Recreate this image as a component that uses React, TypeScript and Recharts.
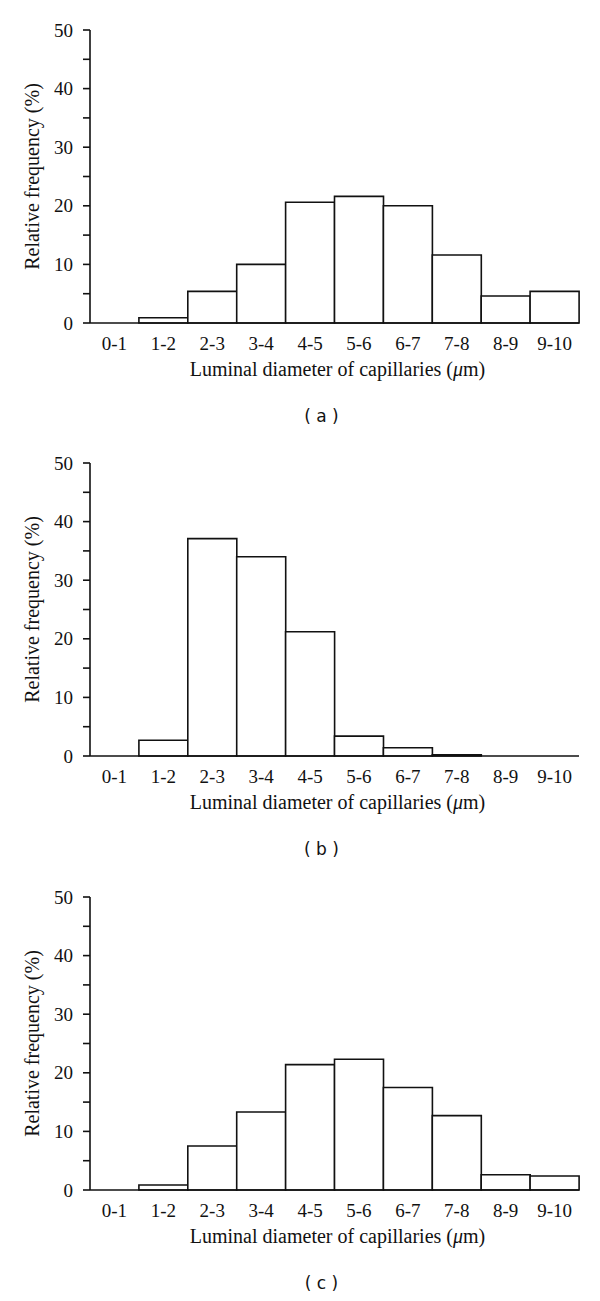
import { BarChart, Bar, XAxis, YAxis, Label } from 'recharts';

const bins = ['0-1', '1-2', '2-3', '3-4', '4-5', '5-6', '6-7', '7-8', '8-9', '9-10'];
const freqA = [0, 0.9, 5.4, 10.0, 20.6, 21.6, 20.0, 11.6, 4.6, 5.4];
const freqB = [0, 2.7, 37.1, 34.0, 21.2, 3.4, 1.4, 0.2, 0, 0];
const freqC = [0, 0.85, 7.5, 13.3, 21.4, 22.3, 17.5, 12.7, 2.6, 2.4];
const yTicks = [0, 5, 10, 15, 20, 25, 30, 35, 40, 45, 50];
const panelTags = ['( a )', '( b )', '( c )'];

const SERIF = '"Liberation Serif", "Times New Roman", serif';
const SANS = '"DejaVu Sans", Verdana, sans-serif';
const INK = '#111';

const YTick = ({ x, y, payload }: any) => {
  if (payload.value % 10 !== 0) return null;
  return (
    <text x={x} y={y} textAnchor="end" dominantBaseline="central" fontFamily={SERIF} fontSize={19} fill={INK}>
      {payload.value}
    </text>
  );
};

const XTick = ({ x, y, payload }: any) => (
  <text x={x} y={y + 18} textAnchor="middle" dominantBaseline="central" fontFamily={SERIF} fontSize={19} fill={INK}>
    {payload.value}
  </text>
);

const YTitle = ({ viewBox }: any) => {
  const cx = 32;
  const cy = viewBox.y + viewBox.height / 2;
  return (
    <text
      x={cx}
      y={cy}
      transform={`rotate(-90, ${cx}, ${cy})`}
      textAnchor="middle"
      dominantBaseline="central"
      fontFamily={SERIF}
      fontSize={20}
      fill={INK}
    >
      Relative frequency (%)
    </text>
  );
};

const makeXTitle = (tag: string) => ({ viewBox }: any) => {
  const cx = viewBox.x + viewBox.width / 2;
  return (
    <g>
      <text x={cx + 3} y={viewBox.y + 46} textAnchor="middle" dominantBaseline="central" fontFamily={SERIF} fontSize={20} fill={INK}>
        Luminal diameter of capillaries (<tspan fontStyle="italic">μ</tspan>m)
      </text>
      <text x={cx - 13} y={viewBox.y + 93} textAnchor="middle" dominantBaseline="central" fontFamily={SANS} fontSize={17} fill={INK}>
        {tag}
      </text>
    </g>
  );
};

function Histogram({ values, tag }: { values: number[]; tag: string }) {
  const data = bins.map((bin, i) => ({ bin, freq: values[i] }));
  return (
    <BarChart width={600} height={434} data={data} margin={{ top: 30, right: 21, bottom: 0, left: 0 }} barCategoryGap={0}>
      <XAxis
        dataKey="bin"
        height={111}
        tickLine={false}
        tickSize={0}
        tick={<XTick />}
        interval={0}
        axisLine={{ stroke: INK, strokeWidth: 1.6 }}
      >
        <Label content={makeXTitle(tag)} />
      </XAxis>
      <YAxis
        width={90}
        domain={[0, 50]}
        ticks={yTicks}
        interval={0}
        tickSize={7}
        tickMargin={10}
        tick={<YTick />}
        tickLine={{ stroke: INK, strokeWidth: 1.6 }}
        axisLine={{ stroke: INK, strokeWidth: 1.6 }}
      >
        <Label content={<YTitle />} />
      </YAxis>
      <Bar dataKey="freq" fill="#fff" stroke={INK} strokeWidth={1.6} isAnimationActive={false} />
    </BarChart>
  );
}

export default function App() {
  return (
    <div style={{ position: 'absolute', left: 0, top: 0, width: 600, height: 1301, background: '#fff' }}>
      <div style={{ position: 'absolute', left: 0, top: 0 }}>
        <Histogram values={freqA} tag={panelTags[0]} />
      </div>
      <div style={{ position: 'absolute', left: 0, top: 433 }}>
        <Histogram values={freqB} tag={panelTags[1]} />
      </div>
      <div style={{ position: 'absolute', left: 0, top: 867 }}>
        <Histogram values={freqC} tag={panelTags[2]} />
      </div>
    </div>
  );
}
